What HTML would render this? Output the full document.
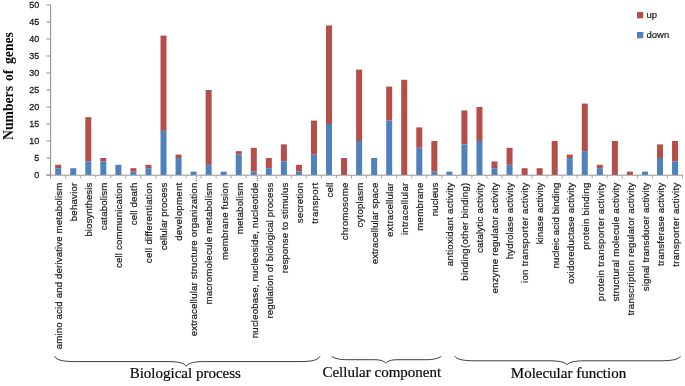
<!DOCTYPE html><html><head><meta charset="utf-8"><title>chart</title>
<style>html,body{margin:0;padding:0;background:#fff;}svg{display:block;will-change:transform;}text{font-family:"Liberation Sans",sans-serif;fill:#1c1c1c;stroke:#1c1c1c;stroke-width:0.22px;}.ser{font-family:"Liberation Serif",serif;fill:#0a0a0a;stroke:#0a0a0a;stroke-width:0.2px;}</style></head><body>
<svg width="685" height="386" viewBox="0 0 685 386">
<rect width="685" height="386" fill="#fff"/>
<rect x="55.20" y="164.80" width="6.0" height="3.40" fill="#b54d4a"/>
<rect x="55.20" y="168.20" width="6.0" height="6.80" fill="#4f81bd"/>
<rect x="70.24" y="168.20" width="6.0" height="6.80" fill="#4f81bd"/>
<rect x="85.29" y="117.20" width="6.0" height="44.20" fill="#b54d4a"/>
<rect x="85.29" y="161.40" width="6.0" height="13.60" fill="#4f81bd"/>
<rect x="100.33" y="158.00" width="6.0" height="3.40" fill="#b54d4a"/>
<rect x="100.33" y="161.40" width="6.0" height="13.60" fill="#4f81bd"/>
<rect x="115.38" y="164.80" width="6.0" height="10.20" fill="#4f81bd"/>
<rect x="130.42" y="168.20" width="6.0" height="3.40" fill="#b54d4a"/>
<rect x="130.42" y="171.60" width="6.0" height="3.40" fill="#4f81bd"/>
<rect x="145.47" y="164.80" width="6.0" height="3.40" fill="#b54d4a"/>
<rect x="145.47" y="168.20" width="6.0" height="6.80" fill="#4f81bd"/>
<rect x="160.51" y="35.60" width="6.0" height="95.20" fill="#b54d4a"/>
<rect x="160.51" y="130.80" width="6.0" height="44.20" fill="#4f81bd"/>
<rect x="175.56" y="154.60" width="6.0" height="3.40" fill="#b54d4a"/>
<rect x="175.56" y="158.00" width="6.0" height="17.00" fill="#4f81bd"/>
<rect x="190.60" y="171.60" width="6.0" height="3.40" fill="#4f81bd"/>
<rect x="205.65" y="90.00" width="6.0" height="74.80" fill="#b54d4a"/>
<rect x="205.65" y="164.80" width="6.0" height="10.20" fill="#4f81bd"/>
<rect x="220.69" y="171.60" width="6.0" height="3.40" fill="#4f81bd"/>
<rect x="235.74" y="151.20" width="6.0" height="3.40" fill="#b54d4a"/>
<rect x="235.74" y="154.60" width="6.0" height="20.40" fill="#4f81bd"/>
<rect x="250.78" y="147.80" width="6.0" height="23.80" fill="#b54d4a"/>
<rect x="250.78" y="171.60" width="6.0" height="3.40" fill="#4f81bd"/>
<rect x="265.83" y="158.00" width="6.0" height="10.20" fill="#b54d4a"/>
<rect x="265.83" y="168.20" width="6.0" height="6.80" fill="#4f81bd"/>
<rect x="280.88" y="144.40" width="6.0" height="17.00" fill="#b54d4a"/>
<rect x="280.88" y="161.40" width="6.0" height="13.60" fill="#4f81bd"/>
<rect x="295.92" y="164.80" width="6.0" height="6.80" fill="#b54d4a"/>
<rect x="295.92" y="171.60" width="6.0" height="3.40" fill="#4f81bd"/>
<rect x="310.97" y="120.60" width="6.0" height="34.00" fill="#b54d4a"/>
<rect x="310.97" y="154.60" width="6.0" height="20.40" fill="#4f81bd"/>
<rect x="326.01" y="25.40" width="6.0" height="98.60" fill="#b54d4a"/>
<rect x="326.01" y="124.00" width="6.0" height="51.00" fill="#4f81bd"/>
<rect x="341.06" y="158.00" width="6.0" height="17.00" fill="#b54d4a"/>
<rect x="356.10" y="69.60" width="6.0" height="71.40" fill="#b54d4a"/>
<rect x="356.10" y="141.00" width="6.0" height="34.00" fill="#4f81bd"/>
<rect x="371.15" y="158.00" width="6.0" height="17.00" fill="#4f81bd"/>
<rect x="386.19" y="86.60" width="6.0" height="34.00" fill="#b54d4a"/>
<rect x="386.19" y="120.60" width="6.0" height="54.40" fill="#4f81bd"/>
<rect x="401.24" y="79.80" width="6.0" height="95.20" fill="#b54d4a"/>
<rect x="416.28" y="127.40" width="6.0" height="20.40" fill="#b54d4a"/>
<rect x="416.28" y="147.80" width="6.0" height="27.20" fill="#4f81bd"/>
<rect x="431.33" y="141.00" width="6.0" height="30.60" fill="#b54d4a"/>
<rect x="431.33" y="171.60" width="6.0" height="3.40" fill="#4f81bd"/>
<rect x="446.37" y="171.60" width="6.0" height="3.40" fill="#4f81bd"/>
<rect x="461.42" y="110.40" width="6.0" height="34.00" fill="#b54d4a"/>
<rect x="461.42" y="144.40" width="6.0" height="30.60" fill="#4f81bd"/>
<rect x="476.46" y="107.00" width="6.0" height="34.00" fill="#b54d4a"/>
<rect x="476.46" y="141.00" width="6.0" height="34.00" fill="#4f81bd"/>
<rect x="491.51" y="161.40" width="6.0" height="6.80" fill="#b54d4a"/>
<rect x="491.51" y="168.20" width="6.0" height="6.80" fill="#4f81bd"/>
<rect x="506.55" y="147.80" width="6.0" height="17.00" fill="#b54d4a"/>
<rect x="506.55" y="164.80" width="6.0" height="10.20" fill="#4f81bd"/>
<rect x="521.60" y="168.20" width="6.0" height="6.80" fill="#b54d4a"/>
<rect x="536.64" y="168.20" width="6.0" height="6.80" fill="#b54d4a"/>
<rect x="551.69" y="141.00" width="6.0" height="34.00" fill="#b54d4a"/>
<rect x="566.73" y="154.60" width="6.0" height="3.40" fill="#b54d4a"/>
<rect x="566.73" y="158.00" width="6.0" height="17.00" fill="#4f81bd"/>
<rect x="581.78" y="103.60" width="6.0" height="47.60" fill="#b54d4a"/>
<rect x="581.78" y="151.20" width="6.0" height="23.80" fill="#4f81bd"/>
<rect x="596.82" y="164.80" width="6.0" height="3.40" fill="#b54d4a"/>
<rect x="596.82" y="168.20" width="6.0" height="6.80" fill="#4f81bd"/>
<rect x="611.87" y="141.00" width="6.0" height="34.00" fill="#b54d4a"/>
<rect x="626.91" y="171.60" width="6.0" height="3.40" fill="#b54d4a"/>
<rect x="641.96" y="171.60" width="6.0" height="3.40" fill="#4f81bd"/>
<rect x="657.00" y="144.40" width="6.0" height="13.60" fill="#b54d4a"/>
<rect x="657.00" y="158.00" width="6.0" height="17.00" fill="#4f81bd"/>
<rect x="672.05" y="141.00" width="6.0" height="20.40" fill="#b54d4a"/>
<rect x="672.05" y="161.40" width="6.0" height="13.60" fill="#4f81bd"/>
<g stroke="#8c8c8c" stroke-width="1" fill="none">
<line x1="50.6" y1="5" x2="50.6" y2="178.5"/>
<line x1="46.40" y1="175.2" x2="682.99" y2="175.2" stroke="#949494"/>
<line x1="46.40" y1="175.00" x2="50.6" y2="175.00" stroke="#8e8e8e"/>
<line x1="46.40" y1="158.00" x2="50.6" y2="158.00" stroke="#8e8e8e"/>
<line x1="46.40" y1="141.00" x2="50.6" y2="141.00" stroke="#8e8e8e"/>
<line x1="46.40" y1="124.00" x2="50.6" y2="124.00" stroke="#8e8e8e"/>
<line x1="46.40" y1="107.00" x2="50.6" y2="107.00" stroke="#8e8e8e"/>
<line x1="46.40" y1="90.00" x2="50.6" y2="90.00" stroke="#8e8e8e"/>
<line x1="46.40" y1="73.00" x2="50.6" y2="73.00" stroke="#8e8e8e"/>
<line x1="46.40" y1="56.00" x2="50.6" y2="56.00" stroke="#8e8e8e"/>
<line x1="46.40" y1="39.00" x2="50.6" y2="39.00" stroke="#8e8e8e"/>
<line x1="46.40" y1="22.00" x2="50.6" y2="22.00" stroke="#8e8e8e"/>
<line x1="46.40" y1="5.00" x2="50.6" y2="5.00" stroke="#8e8e8e"/>
<line x1="65.64" y1="175.0" x2="65.64" y2="178.5" stroke="#a8a8a8"/>
<line x1="80.69" y1="175.0" x2="80.69" y2="178.5" stroke="#a8a8a8"/>
<line x1="95.73" y1="175.0" x2="95.73" y2="178.5" stroke="#a8a8a8"/>
<line x1="110.78" y1="175.0" x2="110.78" y2="178.5" stroke="#a8a8a8"/>
<line x1="125.82" y1="175.0" x2="125.82" y2="178.5" stroke="#a8a8a8"/>
<line x1="140.87" y1="175.0" x2="140.87" y2="178.5" stroke="#a8a8a8"/>
<line x1="155.91" y1="175.0" x2="155.91" y2="178.5" stroke="#a8a8a8"/>
<line x1="170.96" y1="175.0" x2="170.96" y2="178.5" stroke="#a8a8a8"/>
<line x1="186.00" y1="175.0" x2="186.00" y2="178.5" stroke="#a8a8a8"/>
<line x1="201.05" y1="175.0" x2="201.05" y2="178.5" stroke="#a8a8a8"/>
<line x1="216.09" y1="175.0" x2="216.09" y2="178.5" stroke="#a8a8a8"/>
<line x1="231.14" y1="175.0" x2="231.14" y2="178.5" stroke="#a8a8a8"/>
<line x1="246.19" y1="175.0" x2="246.19" y2="178.5" stroke="#a8a8a8"/>
<line x1="261.23" y1="175.0" x2="261.23" y2="178.5" stroke="#a8a8a8"/>
<line x1="276.28" y1="175.0" x2="276.28" y2="178.5" stroke="#a8a8a8"/>
<line x1="291.32" y1="175.0" x2="291.32" y2="178.5" stroke="#a8a8a8"/>
<line x1="306.37" y1="175.0" x2="306.37" y2="178.5" stroke="#a8a8a8"/>
<line x1="321.41" y1="175.0" x2="321.41" y2="178.5" stroke="#a8a8a8"/>
<line x1="336.46" y1="175.0" x2="336.46" y2="178.5" stroke="#a8a8a8"/>
<line x1="351.50" y1="175.0" x2="351.50" y2="178.5" stroke="#a8a8a8"/>
<line x1="366.55" y1="175.0" x2="366.55" y2="178.5" stroke="#a8a8a8"/>
<line x1="381.59" y1="175.0" x2="381.59" y2="178.5" stroke="#a8a8a8"/>
<line x1="396.64" y1="175.0" x2="396.64" y2="178.5" stroke="#a8a8a8"/>
<line x1="411.68" y1="175.0" x2="411.68" y2="178.5" stroke="#a8a8a8"/>
<line x1="426.73" y1="175.0" x2="426.73" y2="178.5" stroke="#a8a8a8"/>
<line x1="441.77" y1="175.0" x2="441.77" y2="178.5" stroke="#a8a8a8"/>
<line x1="456.81" y1="175.0" x2="456.81" y2="178.5" stroke="#a8a8a8"/>
<line x1="471.86" y1="175.0" x2="471.86" y2="178.5" stroke="#a8a8a8"/>
<line x1="486.91" y1="175.0" x2="486.91" y2="178.5" stroke="#a8a8a8"/>
<line x1="501.95" y1="175.0" x2="501.95" y2="178.5" stroke="#a8a8a8"/>
<line x1="517.00" y1="175.0" x2="517.00" y2="178.5" stroke="#a8a8a8"/>
<line x1="532.04" y1="175.0" x2="532.04" y2="178.5" stroke="#a8a8a8"/>
<line x1="547.09" y1="175.0" x2="547.09" y2="178.5" stroke="#a8a8a8"/>
<line x1="562.13" y1="175.0" x2="562.13" y2="178.5" stroke="#a8a8a8"/>
<line x1="577.18" y1="175.0" x2="577.18" y2="178.5" stroke="#a8a8a8"/>
<line x1="592.22" y1="175.0" x2="592.22" y2="178.5" stroke="#a8a8a8"/>
<line x1="607.26" y1="175.0" x2="607.26" y2="178.5" stroke="#a8a8a8"/>
<line x1="622.31" y1="175.0" x2="622.31" y2="178.5" stroke="#a8a8a8"/>
<line x1="637.36" y1="175.0" x2="637.36" y2="178.5" stroke="#a8a8a8"/>
<line x1="652.40" y1="175.0" x2="652.40" y2="178.5" stroke="#a8a8a8"/>
<line x1="667.45" y1="175.0" x2="667.45" y2="178.5" stroke="#a8a8a8"/>
<line x1="682.49" y1="175.0" x2="682.49" y2="178.5" stroke="#a8a8a8"/>
</g>
<text x="34.20" y="177.85" font-size="9.8" style="stroke-width:0.3px" textLength="5.00" lengthAdjust="spacingAndGlyphs">0</text>
<text x="34.20" y="160.85" font-size="9.8" style="stroke-width:0.3px" textLength="5.00" lengthAdjust="spacingAndGlyphs">5</text>
<text x="29.20" y="143.85" font-size="9.8" style="stroke-width:0.3px" textLength="10.00" lengthAdjust="spacingAndGlyphs">10</text>
<text x="29.20" y="126.85" font-size="9.8" style="stroke-width:0.3px" textLength="10.00" lengthAdjust="spacingAndGlyphs">15</text>
<text x="29.20" y="109.85" font-size="9.8" style="stroke-width:0.3px" textLength="10.00" lengthAdjust="spacingAndGlyphs">20</text>
<text x="29.20" y="92.85" font-size="9.8" style="stroke-width:0.3px" textLength="10.00" lengthAdjust="spacingAndGlyphs">25</text>
<text x="29.20" y="75.85" font-size="9.8" style="stroke-width:0.3px" textLength="10.00" lengthAdjust="spacingAndGlyphs">30</text>
<text x="29.20" y="58.85" font-size="9.8" style="stroke-width:0.3px" textLength="10.00" lengthAdjust="spacingAndGlyphs">35</text>
<text x="29.20" y="41.85" font-size="9.8" style="stroke-width:0.3px" textLength="10.00" lengthAdjust="spacingAndGlyphs">40</text>
<text x="29.20" y="24.85" font-size="9.8" style="stroke-width:0.3px" textLength="10.00" lengthAdjust="spacingAndGlyphs">45</text>
<text x="29.20" y="7.85" font-size="9.8" style="stroke-width:0.3px" textLength="10.00" lengthAdjust="spacingAndGlyphs">50</text>
<text transform="translate(62.02,349.22) rotate(-90)" font-size="9.7" textLength="166.52">amino acid and derivative metabolism</text>
<text transform="translate(77.07,221.19) rotate(-90)" font-size="9.7" textLength="38.49">behavior</text>
<text transform="translate(92.11,236.60) rotate(-90)" font-size="9.7" textLength="53.90">biosynthesis</text>
<text transform="translate(107.16,230.13) rotate(-90)" font-size="9.7" textLength="47.43">catabolism</text>
<text transform="translate(122.20,268.08) rotate(-90)" font-size="9.7" textLength="85.38">cell communication</text>
<text transform="translate(137.25,225.31) rotate(-90)" font-size="9.7" textLength="42.61">cell death</text>
<text transform="translate(152.29,263.23) rotate(-90)" font-size="9.7" textLength="80.53">cell differentiation</text>
<text transform="translate(167.34,250.27) rotate(-90)" font-size="9.7" textLength="67.57">cellular process</text>
<text transform="translate(182.38,240.81) rotate(-90)" font-size="9.7" textLength="58.11">development</text>
<text transform="translate(197.43,336.36) rotate(-90)" font-size="9.7" textLength="153.66">extracellular structure organization</text>
<text transform="translate(197.43,181.20) rotate(-90)" font-size="9.7" textLength="5.5" lengthAdjust="spacingAndGlyphs">…</text>
<text transform="translate(212.47,304.51) rotate(-90)" font-size="9.7" textLength="121.81">macromolecule metabolism</text>
<text transform="translate(227.52,260.03) rotate(-90)" font-size="9.7" textLength="77.33">membrane fusion</text>
<text transform="translate(242.56,234.37) rotate(-90)" font-size="9.7" textLength="51.67">metabolism</text>
<text transform="translate(257.61,338.17) rotate(-90)" font-size="9.7" textLength="155.47">nucleobase, nucleoside, nucleotide</text>
<text transform="translate(257.61,181.20) rotate(-90)" font-size="9.7" textLength="5.5" lengthAdjust="spacingAndGlyphs">…</text>
<text transform="translate(272.65,318.55) rotate(-90)" font-size="9.7" textLength="135.85">regulation of biological process</text>
<text transform="translate(287.70,273.37) rotate(-90)" font-size="9.7" textLength="90.67">response to stimulus</text>
<text transform="translate(302.74,223.24) rotate(-90)" font-size="9.7" textLength="40.54">secretion</text>
<text transform="translate(317.79,223.67) rotate(-90)" font-size="9.7" textLength="40.97">transport</text>
<text transform="translate(332.83,197.51) rotate(-90)" font-size="9.7" textLength="14.81">cell</text>
<text transform="translate(347.88,240.32) rotate(-90)" font-size="9.7" textLength="57.62">chromosome</text>
<text transform="translate(362.92,227.39) rotate(-90)" font-size="9.7" textLength="44.69">cytoplasm</text>
<text transform="translate(377.97,264.29) rotate(-90)" font-size="9.7" textLength="81.59">extracellular space</text>
<text transform="translate(393.01,236.99) rotate(-90)" font-size="9.7" textLength="54.29">extracellular</text>
<text transform="translate(408.06,235.09) rotate(-90)" font-size="9.7" textLength="52.39">intracellular</text>
<text transform="translate(423.10,230.73) rotate(-90)" font-size="9.7" textLength="48.03">membrane</text>
<text transform="translate(438.15,216.17) rotate(-90)" font-size="9.7" textLength="33.47">nucleus</text>
<text transform="translate(453.19,266.28) rotate(-90)" font-size="9.7" textLength="83.58">antioxidant activity</text>
<text transform="translate(468.24,280.69) rotate(-90)" font-size="9.7" textLength="97.99">binding(other binding)</text>
<text transform="translate(483.28,253.00) rotate(-90)" font-size="9.7" textLength="70.30">catalytic activity</text>
<text transform="translate(498.33,293.50) rotate(-90)" font-size="9.7" textLength="110.80">enzyme regulator activity</text>
<text transform="translate(513.37,259.35) rotate(-90)" font-size="9.7" textLength="76.65">hydrolase activity</text>
<text transform="translate(528.42,282.90) rotate(-90)" font-size="9.7" textLength="100.20">ion transporter activity</text>
<text transform="translate(543.46,244.33) rotate(-90)" font-size="9.7" textLength="61.63">kinase activity</text>
<text transform="translate(558.51,268.50) rotate(-90)" font-size="9.7" textLength="85.80">nucleic acid binding</text>
<text transform="translate(573.55,283.92) rotate(-90)" font-size="9.7" textLength="101.22">oxidoreductase activity</text>
<text transform="translate(588.60,249.75) rotate(-90)" font-size="9.7" textLength="67.05">protein binding</text>
<text transform="translate(603.64,301.24) rotate(-90)" font-size="9.7" textLength="118.54">protein transporter activity</text>
<text transform="translate(618.69,301.43) rotate(-90)" font-size="9.7" textLength="118.73">structural molecule activity</text>
<text transform="translate(633.73,315.55) rotate(-90)" font-size="9.7" textLength="132.85">transcription regulator activity</text>
<text transform="translate(648.78,291.28) rotate(-90)" font-size="9.7" textLength="108.58">signal transducer activity</text>
<text transform="translate(663.82,266.04) rotate(-90)" font-size="9.7" textLength="83.34">transferase activity</text>
<text transform="translate(678.87,266.72) rotate(-90)" font-size="9.7" textLength="84.02">transporter activity</text>
<text class="ser" style="stroke:none" transform="translate(13,140.0) rotate(-90) scale(0.938,1)" font-size="14.6" font-weight="bold">Numbers</text>
<text class="ser" style="stroke:none" transform="translate(13,81.1) rotate(-90) scale(0.938,1)" font-size="14.6" font-weight="bold">of</text>
<text class="ser" style="stroke:none" transform="translate(13,64.0) rotate(-90) scale(0.938,1)" font-size="14.6" font-weight="bold">genes</text>
<rect x="637" y="12" width="6.3" height="6.3" fill="#b54d4a"/>
<rect x="637" y="32" width="6.3" height="6.3" fill="#4f81bd"/>
<text x="646.5" y="18.4" font-size="9.5">up</text>
<text x="646.5" y="38.2" font-size="9.5">down</text>
<path d="M54.5,356.2 C56.5,360.40000000000003 63.5,361.6 75.5,361.6 L168.3,361.6 C178.20,361.6 183.8,362.8 186.3,366.2 C188.8,362.8 194.40,361.6 204.3,361.6 L299,361.6 C311,361.6 318,360.40000000000003 320,356.2" fill="none" stroke="#1a1a1a" stroke-width="0.85"/>
<path d="M331.8,356.2 C333.8,358.5 340.8,359.7 345.8,359.7 L373.8,359.7 C380.40,359.7 383.3,360.9 385.8,363.0 C388.3,360.9 391.20,359.7 397.8,359.7 L427.2,359.7 C432.2,359.7 439.2,358.5 441.2,356.2" fill="none" stroke="#1a1a1a" stroke-width="0.85"/>
<path d="M454.8,356.2 C456.8,359.6 463.8,360.8 475.8,360.8 L549,360.8 C558.90,360.8 564.5,362.0 567,364.6 C569.5,362.0 575.10,360.8 585,360.8 L659.5,360.8 C671.5,360.8 678.5,359.6 680.5,356.2" fill="none" stroke="#1a1a1a" stroke-width="0.85"/>
<text class="ser" x="185.3" y="377.9" font-size="15" text-anchor="middle">Biological process</text>
<text class="ser" x="381.8" y="377.2" font-size="15" text-anchor="middle">Cellular component</text>
<text class="ser" x="568.5" y="378.2" font-size="15" text-anchor="middle">Molecular function</text>
</svg></body></html>
